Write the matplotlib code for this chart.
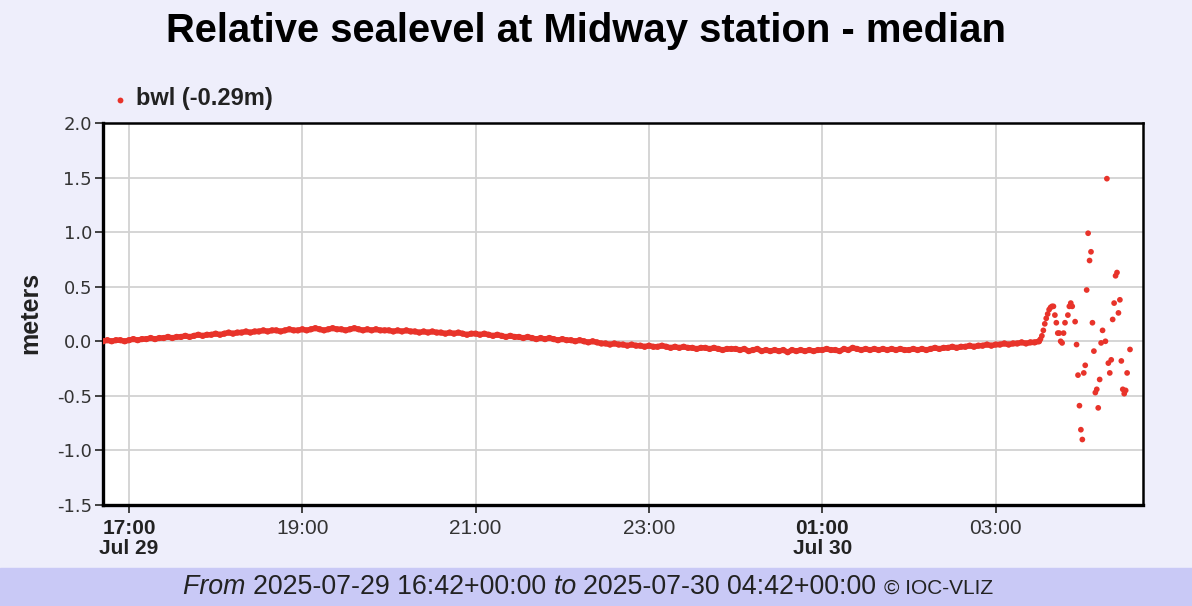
import numpy as np
import pandas as pd
import matplotlib
matplotlib.use("Agg")
import matplotlib.pyplot as plt
import matplotlib.dates as mdates
from matplotlib.lines import Line2D

plt.rcParams['font.family'] = ['Liberation Sans', 'DejaVu Sans']

# bwl, 3-minute readings from 2025-07-29 16:42 to 2025-07-30 03:30 (meters)
smooth_start = "2025-07-29 16:42"
smooth_vals = [
    0.00, 0.01, 0.00, 0.01, 0.01, 0.00,
    0.01, 0.02, 0.01, 0.02, 0.02, 0.03, 0.02, 0.03, 0.03, 0.04,
    0.03, 0.04, 0.04, 0.05, 0.04, 0.05, 0.06, 0.05, 0.06, 0.06,
    0.07, 0.06, 0.07, 0.08, 0.07, 0.08, 0.08, 0.09, 0.08, 0.09,
    0.09, 0.10, 0.09, 0.10, 0.10, 0.09, 0.10, 0.11, 0.10, 0.10,
    0.11, 0.10, 0.11, 0.12, 0.11, 0.10, 0.11, 0.12, 0.11, 0.11,
    0.10, 0.11, 0.12, 0.11, 0.10, 0.11, 0.10, 0.11, 0.10, 0.10,
    0.10, 0.09, 0.10, 0.09, 0.10, 0.09, 0.09, 0.08, 0.09, 0.08,
    0.09, 0.08, 0.08, 0.07, 0.08, 0.07, 0.08, 0.07, 0.06, 0.07,
    0.07, 0.06, 0.07, 0.06, 0.05, 0.06, 0.05, 0.04, 0.05, 0.04,
    0.04, 0.03, 0.04, 0.03, 0.02, 0.03, 0.02, 0.03, 0.02, 0.01,
    0.02, 0.01, 0.01, 0.00, 0.01, 0.00, -0.01, 0.00, -0.01, -0.02,
    -0.02, -0.03, -0.02, -0.03, -0.03, -0.04, -0.03, -0.04, -0.04, -0.05,
    -0.04, -0.05, -0.05, -0.04, -0.05, -0.06, -0.05, -0.06, -0.05, -0.06,
    -0.06, -0.07, -0.06, -0.06, -0.07, -0.06, -0.07, -0.08, -0.07, -0.07,
    -0.07, -0.08, -0.07, -0.09, -0.08, -0.07, -0.09, -0.08, -0.09, -0.08,
    -0.09, -0.08, -0.10, -0.08, -0.09, -0.08, -0.09, -0.08, -0.09, -0.08,
    -0.08, -0.07, -0.08, -0.08, -0.09, -0.07, -0.08, -0.06, -0.07, -0.08,
    -0.07, -0.08, -0.07, -0.08, -0.07, -0.08, -0.07, -0.08, -0.07, -0.08,
    -0.08, -0.07, -0.08, -0.07, -0.08, -0.07, -0.06, -0.07, -0.06, -0.06,
    -0.05, -0.06, -0.05, -0.05, -0.04, -0.05, -0.04, -0.04, -0.03, -0.04,
    -0.03, -0.03, -0.02, -0.03, -0.02, -0.02, -0.01, -0.02, -0.01, -0.01, 0.00,
]

# 1-minute readings during the disturbance, minutes after 2025-07-30 03:00
burst_min = [31, 32, 33, 34, 35, 36, 37, 38, 39, 40,
             41, 42, 43, 44, 45, 46, 47, 48, 50, 51, 52, 53, 55,
             56, 57, 58, 59, 60, 61, 62, 63, 64, 65, 66, 67, 68,
             69, 70, 71, 72, 73, 74, 76, 77, 78, 79, 80, 81, 82,
             83, 84, 85, 86, 87, 88, 89, 90, 91, 93]
burst_vals = [0.02, 0.05, 0.10, 0.16, 0.21, 0.25, 0.29, 0.31, 0.32, 0.32,
              0.24, 0.17, 0.075, 0.075, 0.00, -0.015, 0.075, 0.17, 0.24, 0.32, 0.35, 0.32, 0.18,
              -0.03, -0.31, -0.59, -0.81, -0.90, -0.29, -0.22, 0.47, 0.99, 0.74, 0.82, 0.17, -0.09,
              -0.47, -0.44, -0.61, -0.35, -0.015, 0.10, 0.00, 1.49, -0.20, -0.29, -0.17, 0.20, 0.35,
              0.60, 0.63, 0.26, 0.38, -0.18, -0.44, -0.48, -0.45, -0.29, -0.075]

y_ticks = [2.0, 1.5, 1.0, 0.5, 0.0, -0.5, -1.0, -1.5]

t_smooth = pd.date_range(smooth_start, periods=len(smooth_vals), freq="3min")
t_burst = pd.Timestamp("2025-07-30 03:00") + pd.to_timedelta(burst_min, unit="min")

bg = "#EEEEFB"
red = "#E8332A"
W, H = 1192, 606

fig = plt.figure(figsize=(11.92, 6.06), dpi=100, facecolor=bg)
ax = fig.add_axes([103 / W, 1 - 505 / H, 1040 / W, 382 / H])
ax.set_facecolor("white")

# dense 1-min record shows as a thick band
ax.plot(t_smooth, smooth_vals, color=red, lw=4, solid_capstyle="round", zorder=3)
ax.scatter(t_smooth, smooth_vals, s=20, color=red, edgecolors="none", zorder=3)
ax.scatter(t_burst, burst_vals, s=17, color=red, edgecolors="none", zorder=3)

ax.set_xlim(pd.Timestamp("2025-07-29 16:42"), pd.Timestamp("2025-07-30 04:42"))
ax.set_ylim(-1.5, 2.0)
ax.set_yticks(y_ticks)
ax.set_yticklabels([f"{v:.1f}" for v in y_ticks], fontsize=13, color="#333333",
                   family="DejaVu Sans")

xt = pd.date_range("2025-07-29 17:00", "2025-07-30 03:00", freq="2h")
ax.set_xticks(xt)
labels = []
for t in xt:
    if t.hour == 17 or t.hour == 1:
        labels.append(t.strftime("%H:%M") + "\n" + t.strftime("%b ") + str(t.day))
    else:
        labels.append(t.strftime("%H:%M"))
ax.set_xticklabels(labels, fontsize=15, color="#333333", linespacing=1.1)
for lbl, t in zip(ax.get_xticklabels(), xt):
    if t.hour == 17 or t.hour == 1:
        lbl.set_fontweight("bold")
        lbl.set_color("#222222")

ax.grid(True, color="#D2D2D2", lw=1.3)
ax.set_axisbelow(True)
ax.tick_params(axis="x", direction="out", length=6, width=1.3, color="#333333", pad=4)
ax.tick_params(axis="y", direction="out", length=6, width=1.3, color="#333333", pad=2)
for side in ["left", "bottom"]:
    ax.spines[side].set_linewidth(2.4)
for side in ["top", "right"]:
    ax.spines[side].set_linewidth(1.8)

fig.text(30 / W, 1 - 313 / H, "meters", rotation=90, fontsize=18, fontweight="bold",
         ha="center", va="center", color="#222222")

fig.text(586 / W, 1 - 31 / H, "Relative sealevel at Midway station - median",
         fontsize=28.8, fontweight="bold", ha="center", va="center")

# legend
fig.add_artist(Line2D([120 / W], [1 - 100 / H], marker="o", ms=4.2, color=red,
                      markeredgewidth=0, transform=fig.transFigure))
fig.text(136 / W, 1 - 99 / H, "bwl (-0.29m)", fontsize=17, fontweight="bold",
         ha="left", va="center", color="#222222")

# footer band
fig.patches.append(plt.Rectangle((0, 0), 1, 38 / H, transform=fig.transFigure,
                                 color="#C9C9F6", figure=fig, zorder=0))
parts = [("From ", "italic", 19.3), ("2025-07-29 16:42+00:00 ", "normal", 19.3),
         ("to ", "italic", 19.3), ("2025-07-30 04:42+00:00 ", "normal", 19.3),
         ("© IOC-VLIZ", "normal", 15)]
fig.canvas.draw()
renderer = fig.canvas.get_renderer()
texts = []
for s, style, size in parts:
    texts.append(fig.text(0, 1 - 587 / H, s, fontsize=size, style=style,
                          ha="left", va="baseline", color="#222222"))
for t in texts:
    t.set_y(1 - 594 / H)
widths = [t.get_window_extent(renderer).width for t in texts]
x = 588 - sum(widths) / 2
for t, w in zip(texts, widths):
    t.set_x(x / W)
    x += w

fig.savefig("out.png", dpi=100, facecolor=bg)
